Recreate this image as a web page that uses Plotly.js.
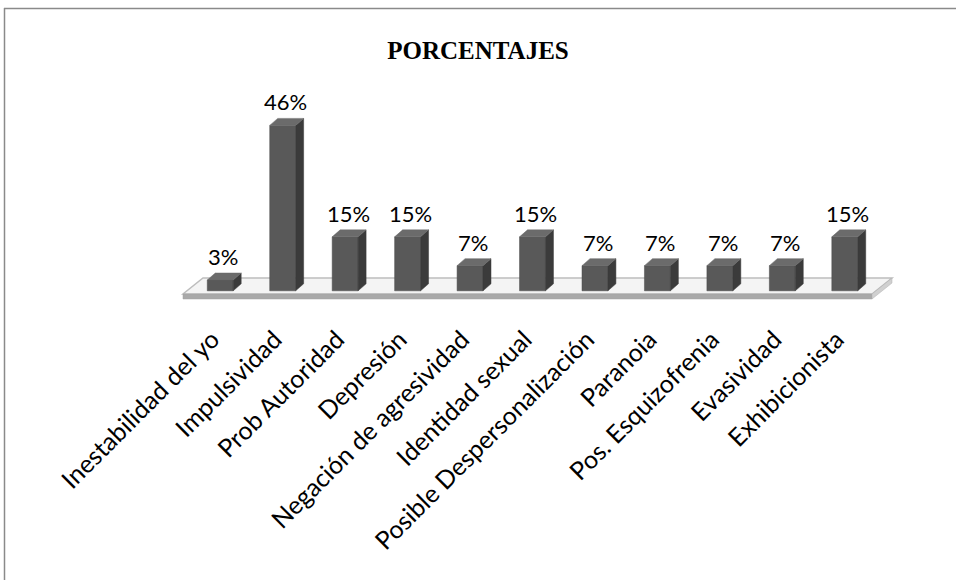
<!DOCTYPE html>
<html>
<head>
<meta charset="utf-8">
<script src="https://cdn.plot.ly/plotly-3.0.1.min.js"></script>
<style>html,body{margin:0;padding:0;background:#fff;}#chart{width:956px;height:580px;}</style>
</head>
<body>
<div id="chart"></div>
<script>
var categories = ["Inestabilidad del yo","Impulsividad","Prob Autoridad","Depresión","Negación de agresividad","Identidad sexual","Posible Despersonalización","Paranoia","Pos. Esquizofrenia","Evasividad","Exhibicionista"];
var values = [3, 46, 15, 15, 7, 15, 7, 7, 7, 7, 15];
var valueLabels = ["3%","46%","15%","15%","7%","15%","7%","7%","7%","7%","15%"];
var chartTitle = "PORCENTAJES";

var W = 956, H = 580;
var M = {l: 189, r: 80, t: 111, b: 282};
var plotW = W - M.l - M.r, plotH = H - M.t - M.b;
var yRange = [-2, 50];
var xRange = [-0.5, 10.5];
var unitPx = plotW / (xRange[1] - xRange[0]);
var labelShift = 8 / unitPx;
var barW = 0.415;
var dxU = 8 / unitPx;
var dyU = 7 / (plotH / (yRange[1] - yRange[0]));

function px(x){ return (x - M.l) / plotW; }
function py(y){ return (H - M.b - y) / plotH; }

var idx = categories.map(function(_, i){ return i; });

// side and top faces (3D effect) derived from values
var sideX = [], sideY = [], topX = [], topY = [];
idx.forEach(function(i){
  var v = values[i], r = i + barW/2, l = i - barW/2;
  sideX.push(r, r + dxU, r + dxU, r, r, null);
  sideY.push(0, dyU, v + dyU, v, 0, null);
  topX.push(l, l + dxU, r + dxU, r, l, null);
  topY.push(v, v + dyU, v + dyU, v, v, null);
});

var traces = [
  {type: 'scatter', x: sideX, y: sideY, mode: 'lines', fill: 'toself', fillcolor: '#3b3b3b',
   line: {color: '#3b3b3b', width: 0.5}, hoverinfo: 'skip', showlegend: false, cliponaxis: false},
  {type: 'scatter', x: topX, y: topY, mode: 'lines', fill: 'toself', fillcolor: '#6b6b6b',
   line: {color: '#6b6b6b', width: 0.5}, hoverinfo: 'skip', showlegend: false, cliponaxis: false},
  {type: 'bar', x: idx, y: values, width: barW, marker: {color: '#595959', line: {color: '#4a4a4a', width: 0.5}},
   showlegend: false, hoverinfo: 'x+y', cliponaxis: false}
];

var annotations = idx.map(function(i){
  return {x: i, y: values[i], text: valueLabels[i], showarrow: false, xanchor: 'center', yanchor: 'bottom',
          xshift: 3, yshift: 8, font: {family: 'Lato, sans-serif', size: 22, color: '#000'}};
});

var shapes = [
  // floor top face
  {type: 'path', xref: 'paper', yref: 'paper', layer: 'below',
   path: 'M ' + px(183) + ' ' + py(294) + ' L ' + px(872) + ' ' + py(294) + ' L ' + px(892) + ' ' + py(278) + ' L ' + px(203) + ' ' + py(278) + ' Z',
   fillcolor: '#f4f4f4', line: {color: '#bdbdbd', width: 1.5}},
  // floor front face
  {type: 'path', xref: 'paper', yref: 'paper', layer: 'below',
   path: 'M ' + px(183) + ' ' + py(294) + ' L ' + px(872) + ' ' + py(294) + ' L ' + px(872) + ' ' + py(299) + ' L ' + px(183) + ' ' + py(299) + ' Z',
   fillcolor: '#a9a9a9', line: {color: '#a0a0a0', width: 0.5}},
  // floor right side
  {type: 'path', xref: 'paper', yref: 'paper', layer: 'below',
   path: 'M ' + px(872) + ' ' + py(294) + ' L ' + px(892) + ' ' + py(278) + ' L ' + px(892) + ' ' + py(283) + ' L ' + px(872) + ' ' + py(299) + ' Z',
   fillcolor: '#d0d0d0', line: {color: '#b0b0b0', width: 0.5}},
  // chart border (top and left)
  {type: 'line', xref: 'paper', yref: 'paper', x0: px(4), x1: px(956), y0: py(8.5), y1: py(8.5),
   line: {color: '#8a8a8a', width: 1.5}},
  {type: 'line', xref: 'paper', yref: 'paper', x0: px(4.5), x1: px(4.5), y0: py(8), y1: py(580),
   line: {color: '#8a8a8a', width: 1.5}}
];

var layout = {
  width: W, height: H,
  margin: M,
  paper_bgcolor: '#fff', plot_bgcolor: 'rgba(0,0,0,0)',
  title: {text: '<b>' + chartTitle + '</b>', x: 0.5, xanchor: 'center', y: 1 - 50/H, yanchor: 'middle', yref: 'container', xref: 'container',
          font: {family: '"Liberation Serif", "Times New Roman", serif', size: 25, color: '#000'}},
  xaxis: {range: xRange, showticklabels: false, showgrid: false, zeroline: false, showline: false, ticks: '', fixedrange: true},
  xaxis2: {overlaying: 'x', anchor: 'y', side: 'bottom', range: [xRange[0] + labelShift, xRange[1] + labelShift],
          tickmode: 'array', tickvals: idx, ticktext: categories, tickangle: -45,
          showgrid: false, zeroline: false, showline: false, ticks: '', ticklabelstandoff: 21,
          tickfont: {family: 'Lato, sans-serif', size: 25, color: '#000'}, fixedrange: true},
  yaxis: {range: yRange, showgrid: false, zeroline: false, showline: false, showticklabels: false, ticks: '', fixedrange: true},
  annotations: annotations,
  shapes: shapes,
  bargap: 0, barmode: 'overlay'
};

// invisible trace so xaxis2 is drawn
traces.push({type: 'scatter', x: idx, y: values, xaxis: 'x2', yaxis: 'y', mode: 'markers',
             marker: {opacity: 0}, hoverinfo: 'skip', showlegend: false});

Plotly.newPlot('chart', traces, layout, {displayModeBar: false, staticPlot: true});
</script>
</body>
</html>
